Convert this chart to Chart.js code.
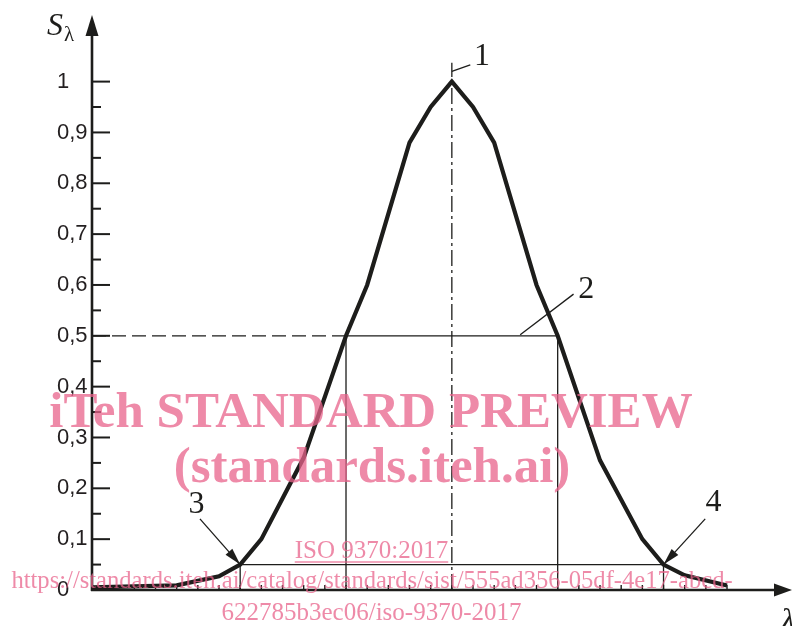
<!DOCTYPE html>
<html>
<head>
<meta charset="utf-8">
<style>
  html, body { margin: 0; padding: 0; background: #fff; }
  #wrap { width: 792px; height: 626px; }
</style>
<script src="https://cdn.jsdelivr.net/npm/chart.js@4.4.0/dist/chart.umd.min.js"></script>
</head>
<body>
<div id="wrap"><canvas id="spectrum" width="792" height="626"></canvas></div>
<script>
// relative spectral curve, x counted in grid steps from the peak
const curveX = [-17, -13, -11, -10, -9, -7, -5, -4, -2, -1, 0, 1, 2, 4, 5, 7, 9, 10, 11, 13];
const curveY = [0.005, 0.009, 0.027, 0.05, 0.10, 0.26, 0.50, 0.60, 0.88, 0.95, 1.0, 0.95, 0.88, 0.60, 0.50, 0.255, 0.10, 0.05, 0.029, 0.009];

const yTickValues = [0, 0.1, 0.2, 0.3, 0.4, 0.5, 0.6, 0.7, 0.8, 0.9, 1];
const yTickLabels = ['0', '0,1', '0,2', '0,3', '0,4', '0,5', '0,6', '0,7', '0,8', '0,9', '1'];
const yMinorTicks = [0.05, 0.15, 0.25, 0.35, 0.45, 0.55, 0.65, 0.75, 0.85, 0.95];
const xTickValues = [-16, -15, -14, -13, -12, -11, -10, -9, -8, -7, -6, -5, -4, -3, -2, -1, 0,
  1, 2, 3, 4, 5, 6, 7, 8, 9, 10, 11, 12, 13];

// guide lines
const halfLevel = 0.5;
const halfEdges = [-5, 5];
const baseLevel = 0.05;
const baseEdges = [-10, 10];
const peakAxisTop = 1.037;

// callout numbers: label position, leader start, leader end
const calloutText = ['1', '2', '3', '4'];
const calloutAt = [[1.43, 1.05], [6.35, 0.59], [-12.06, 0.168], [12.36, 0.172]];
const calloutFrom = [[0, 1.02], [3.23, 0.502], [-11.9, 0.14], [11.97, 0.14]];
const calloutTo = [[0.87, 1.033], [5.75, 0.582], [-10, 0.05], [10, 0.05]];
const calloutArrow = [false, false, true, true];

const xMin = -17, xMax = 16.07, yMax = 1.131;

const ink = '#1d1d1b';
const pts = (xs, ys) => xs.map((x, i) => ({ x: x, y: ys[i] }));

const axesPlugin = {
  id: 'axes',
  afterDatasetsDraw(chart) {
    const ctx = chart.ctx;
    const xs = chart.scales.x, ys = chart.scales.y;
    const a = chart.chartArea;
    const x0 = xs.getPixelForValue(xMin);
    const y0 = ys.getPixelForValue(0);
    ctx.save();
    ctx.strokeStyle = ink;
    ctx.fillStyle = ink;
    ctx.lineWidth = 2.6;
    // vertical axis + arrow
    ctx.beginPath();
    ctx.moveTo(x0, y0 + 1);
    ctx.lineTo(x0, a.top + 18);
    ctx.stroke();
    ctx.beginPath();
    ctx.moveTo(x0, a.top);
    ctx.lineTo(x0 - 6.5, a.top + 21);
    ctx.lineTo(x0 + 6.5, a.top + 21);
    ctx.closePath();
    ctx.fill();
    // horizontal axis + arrow
    ctx.beginPath();
    ctx.moveTo(x0 - 1, y0);
    ctx.lineTo(a.right - 15, y0);
    ctx.stroke();
    ctx.beginPath();
    ctx.moveTo(a.right, y0);
    ctx.lineTo(a.right - 18, y0 - 6.5);
    ctx.lineTo(a.right - 18, y0 + 6.5);
    ctx.closePath();
    ctx.fill();
    // y ticks, drawn inwards
    ctx.lineWidth = 2;
    yTickValues.forEach(v => {
      if (v === 0) return;
      const y = ys.getPixelForValue(v);
      ctx.beginPath(); ctx.moveTo(x0, y); ctx.lineTo(x0 + 18, y); ctx.stroke();
    });
    yMinorTicks.forEach(v => {
      const y = ys.getPixelForValue(v);
      ctx.beginPath(); ctx.moveTo(x0, y); ctx.lineTo(x0 + 9, y); ctx.stroke();
    });
    // x ticks
    ctx.lineWidth = 1.4;
    xTickValues.forEach(v => {
      const x = xs.getPixelForValue(v);
      ctx.beginPath(); ctx.moveTo(x, y0); ctx.lineTo(x, y0 - 5); ctx.stroke();
    });

    // callouts
    ctx.lineWidth = 1.3;
    ctx.font = '32px "Liberation Serif", serif';
    ctx.textAlign = 'center';
    ctx.textBaseline = 'middle';
    calloutText.forEach((t, i) => {
      const fx = xs.getPixelForValue(calloutFrom[i][0]), fy = ys.getPixelForValue(calloutFrom[i][1]);
      const tx = xs.getPixelForValue(calloutTo[i][0]), ty = ys.getPixelForValue(calloutTo[i][1]);
      ctx.beginPath(); ctx.moveTo(fx, fy); ctx.lineTo(tx, ty); ctx.stroke();
      if (calloutArrow[i]) {
        const ang = Math.atan2(ty - fy, tx - fx);
        const len = 17, hw = 4.5;
        ctx.beginPath();
        ctx.moveTo(tx, ty);
        ctx.lineTo(tx - len * Math.cos(ang) + hw * Math.sin(ang), ty - len * Math.sin(ang) - hw * Math.cos(ang));
        ctx.lineTo(tx - len * Math.cos(ang) - hw * Math.sin(ang), ty - len * Math.sin(ang) + hw * Math.cos(ang));
        ctx.closePath();
        ctx.fill();
      }
      ctx.fillText(t, xs.getPixelForValue(calloutAt[i][0]), ys.getPixelForValue(calloutAt[i][1]));
    });

    // axis titles
    ctx.textAlign = 'left';
    ctx.textBaseline = 'alphabetic';
    ctx.font = 'italic 32px "Liberation Serif", serif';
    ctx.fillText('S', 47, 35);
    ctx.font = '21px "Liberation Serif", serif';
    ctx.fillText('λ', 64, 41);
    ctx.font = 'italic 32px "Liberation Serif", serif';
    ctx.fillText('λ', 781, 630);
    ctx.restore();
  },
  afterDraw(chart) {
    const ctx = chart.ctx;
    ctx.save();
    ctx.fillStyle = 'rgba(232, 99, 139, 0.75)';
    ctx.strokeStyle = 'rgba(232, 99, 139, 0.75)';
    ctx.textAlign = 'center';
    ctx.textBaseline = 'alphabetic';
    ctx.font = 'bold 51px "Liberation Serif", serif';
    ctx.fillText('iTeh STANDARD PREVIEW', 371, 427);
    ctx.fillText('(standards.iteh.ai)', 372, 482);
    ctx.font = '25px "Liberation Serif", serif';
    ctx.fillText('ISO 9370:2017', 371.5, 558);
    const w = ctx.measureText('ISO 9370:2017').width;
    ctx.lineWidth = 1.3;
    ctx.beginPath(); ctx.moveTo(371.5 - w / 2, 562); ctx.lineTo(371.5 + w / 2, 562); ctx.stroke();
    ctx.font = '24.6px "Liberation Serif", serif';
    ctx.fillText('https://standards.iteh.ai/catalog/standards/sist/555ad356-05df-4e17-abcd-', 372, 588);
    ctx.font = '25px "Liberation Serif", serif';
    ctx.fillText('622785b3ec06/iso-9370-2017', 371.5, 620);
    ctx.restore();
  }
};

const thin = { borderColor: ink, borderWidth: 1.3, pointRadius: 0, fill: false, tension: 0, clip: false };

new Chart(document.getElementById('spectrum').getContext('2d'), {
  type: 'line',
  data: {
    datasets: [
      Object.assign({ data: pts([xMin, halfEdges[0]], [halfLevel, halfLevel]), borderDash: [14, 6] }, thin),
      Object.assign({ data: pts([halfEdges[0], halfEdges[0], halfEdges[1], halfEdges[1]], [0, halfLevel, halfLevel, 0]) }, thin),
      Object.assign({ data: pts([baseEdges[0], baseEdges[0], baseEdges[1], baseEdges[1]], [0, baseLevel, baseLevel, 0]) }, thin),
      Object.assign({ data: pts([0, 0], [0, peakAxisTop]), borderDash: [16, 4, 3, 4] }, thin),
      {
        data: pts(curveX, curveY),
        borderColor: ink,
        borderWidth: 4.2,
        borderJoinStyle: 'miter',
        pointRadius: 0,
        fill: false,
        tension: 0,
        clip: false
      }
    ]
  },
  options: {
    responsive: false,
    animation: false,
    devicePixelRatio: 1,
    layout: { padding: { left: 57, top: 15, right: 0, bottom: 36 } },
    plugins: { legend: { display: false }, tooltip: { enabled: false } },
    scales: {
      x: { type: 'linear', min: xMin, max: xMax, display: false },
      y: {
        type: 'linear',
        min: 0,
        max: yMax,
        grid: { display: false },
        border: { display: false },
        afterBuildTicks: s => { s.ticks = yTickValues.map(v => ({ value: v })); },
        afterFit: s => { s.width = 35; },
        ticks: {
          crossAlign: 'far',
          padding: 0,
          color: '#231f20',
          font: { family: '"Liberation Sans", sans-serif', size: 22 },
          callback: (v, i) => yTickLabels[i]
        }
      }
    }
  },
  plugins: [axesPlugin]
});
</script>
</body>
</html>
